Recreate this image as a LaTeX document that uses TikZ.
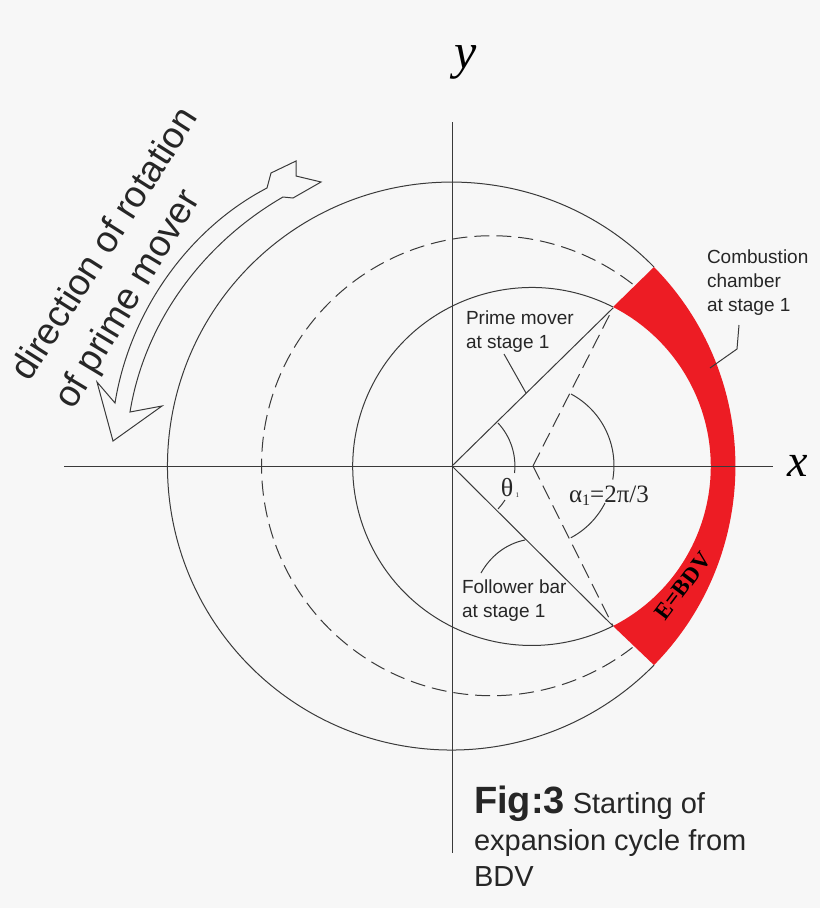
\documentclass[tikz,border=0pt]{standalone}
\usepackage{fontspec}
\setmainfont{Liberation Sans}
\newfontfamily\serifgreek{Liberation Serif}
\definecolor{bgc}{HTML}{F7F7F7}
\definecolor{redc}{HTML}{ED1C24}
\definecolor{linec}{HTML}{3A3A3A}
\tikzset{
  thinline/.style={draw=linec,line width=1pt},
  dashline/.style={draw=linec,line width=1pt,dash pattern=on 15pt off 7pt},
  lab/.style={inner sep=0pt,outer sep=0pt,text=black!85,font=\fontsize{19}{24}\selectfont,align=left,anchor=north west},
}
\begin{document}
\begin{tikzpicture}[x=1pt,y=-1pt]
\path[use as bounding box,fill=bgc] (0,0) rectangle (820,908);
% red chamber
\fill[redc] (654,267) arc[start angle=-44.5,end angle=44.5,radius=284] -- (613,626) arc[start angle=63,end angle=-63,radius=179] -- cycle;
% circles
\draw[thinline] (654,267) arc[start angle=-44.5,end angle=-315.5,radius=284];
\draw[thinline] (613,307) arc[start angle=-63,end angle=-297,radius=179];
\draw[dashline] (632.5,284) arc[start angle=-52.2,end angle=-307.8,radius=230];
% axes
\coordinate (O) at (452,466);
\coordinate (Q) at (533,466);
\coordinate (PT) at (613,308);
\coordinate (PB) at (613,626);
\draw[thinline] (64,466) -- (773,466);
\draw[thinline] (452,122) -- (452,853);
\draw[thinline] (O) -- (PT);
\draw[thinline] (O) -- (PB);
\draw[dashline] (Q) -- (PT);
\draw[dashline] (Q) -- (PB);
% angle arcs
\draw[thinline] (498,423) arc[start angle=-43,end angle=6.4,radius=63];
\draw[thinline] (505,500) arc[start angle=32.7,end angle=43,radius=63];
\draw[thinline] (571,394) arc[start angle=-62,end angle=10,radius=81];
\draw[thinline] (605,503) arc[start angle=27,end angle=62,radius=81];
% leaders
\draw[thinline] (526,393) -- (504,354);
\draw[thinline] (525,540) .. controls (505,544) and (490,557) .. (481,573);
\draw[thinline] (710,368) -- (737,349) -- (739,325);
% rotation arrow
\draw[thinline] (267,188) .. controls (190,228) and (130,310) .. (115,403) -- (97,382) -- (113,441) -- (162,406) -- (130,412)
  .. controls (145,320) and (205,242) .. (283,197) -- (293,198) -- (321,182) -- (296,176) -- (296,161) -- (271,173) -- cycle;
% labels
\node[lab] (cc) at (707,250) {Combustion\\chamber\\at stage 1};
\node[lab] (pm) at (466,311) {Prime mover\\at stage 1};
\node[lab] (fb) at (462,580) {Follower bar\\at stage 1};
\node[inner sep=0pt,anchor=center,text=black!85,font=\serifgreek\fontsize{26}{26}\selectfont] (th) at (510,488) {θ\raisebox{-1pt}{\fontsize{7}{7}\selectfont\,\,1}};
\node[inner sep=0pt,anchor=center,text=black!85,font=\serifgreek\fontsize{25}{25}\selectfont] (al) at (609,496) {α\raisebox{-3pt}{\fontsize{16}{16}\selectfont 1}=2π/3};
\node[inner sep=0pt,rotate=53,text=black,font=\serifgreek\bfseries\fontsize{23}{23}\selectfont] (e) at (683,586) {E=BDV};
\node[inner sep=0pt,text=black,font=\serifgreek\itshape\fontsize{50}{50}\selectfont] (ylab) at (466,62) {y};
\node[inner sep=0pt,text=black,font=\serifgreek\itshape\fontsize{46}{46}\selectfont] (xlab) at (798,466) {x};
\node[inner sep=0pt,rotate=57.5,text=black!85,font=\fontsize{37}{37}\selectfont] (d1) at (103,243) {direction of rotation};
\node[inner sep=0pt,rotate=59,text=black!85,font=\fontsize{37}{37}\selectfont] (d2) at (129,300) {of prime mover};
\node[lab,font=\fontsize{29}{36.5}\selectfont] (fig) at (474,786) {{\bfseries\fontsize{38}{36}\selectfont Fig:3} Starting of\\expansion cycle from\\BDV};
\end{tikzpicture}
\end{document}
